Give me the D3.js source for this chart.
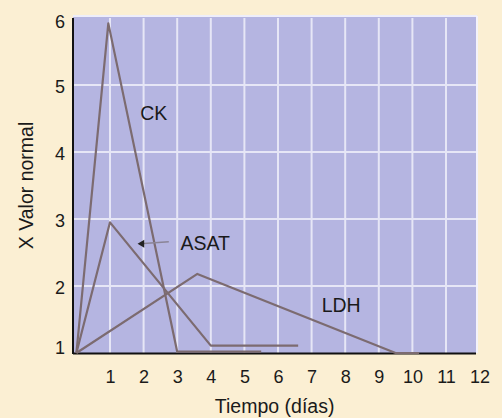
<!DOCTYPE html>
<html><head><meta charset="utf-8">
<script src="https://cdn.jsdelivr.net/npm/d3@7"></script>
<style>
html,body{margin:0;padding:0;background:#fbefd3;}
svg{display:block;}
text{font-family:"Liberation Sans",Arial,sans-serif;fill:#1a1a1a;}
</style></head>
<body>
<svg id="c" width="502" height="418"></svg>
<script>
const xTicks = [1,2,3,4,5,6,7,8,9,10,11,12];
const yTicks = [1,2,3,4,5,6];
const ckX = [0, 0.95, 3.0, 5.5];
const ckY = [1, 5.92, 1.02, 1.02];
const asatX = [0, 1.0, 4.0, 6.6];
const asatY = [1, 2.95, 1.11, 1.11];
const ldhX = [0, 3.6, 9.5, 10.2];
const ldhY = [1, 2.18, 1.0, 1.0];
const labels = ["CK", "ASAT", "LDH"];
const labelPos = [[1.9, 4.58], [3.1, 2.64], [7.3, 1.72]];
const xTitle = "Tiempo (días)";
const yTitle = "X Valor normal";

const svg = d3.select("#c");
const x = d3.scaleLinear().domain([0, 12]).range([76.4, 479.6]);
const y = d3.scaleLinear().domain([1, 6]).range([353, 18]);
const pL = 73, pR = 476, pT = 18, pB = 353;

svg.append("rect").attr("x", pL).attr("y", pT - 2).attr("width", pR - pL).attr("height", pB - pT + 2)
  .attr("fill", "#b5b5e1");
svg.append("line").attr("x1", pL).attr("x2", pR + 1).attr("y1", pT - 2).attr("y2", pT - 2)
  .attr("stroke", "#eeeefa").attr("stroke-width", 2);
svg.append("line").attr("x1", pR + 1).attr("x2", pR + 1).attr("y1", pT - 2).attr("y2", pB)
  .attr("stroke", "#f4f2fa").attr("stroke-width", 2);

const g = svg.append("g");
g.selectAll(".vg").data(xTicks.filter(d => x(d) < pR - 2)).join("line")
  .attr("x1", d => x(d)).attr("x2", d => x(d)).attr("y1", pT).attr("y2", pB)
  .attr("stroke", "#e6e6f6").attr("stroke-width", 2);
g.selectAll(".hg").data(yTicks.filter(d => d > 1 && d < 6)).join("line")
  .attr("x1", pL).attr("x2", pR).attr("y1", d => y(d)).attr("y2", d => y(d))
  .attr("stroke", "#e6e6f6").attr("stroke-width", 2);

const xAxis = d3.axisBottom(x).tickValues(xTicks).tickSize(0).tickPadding(17).tickFormat(d3.format("d"));
const xg = svg.append("g").attr("transform", `translate(0,${pB})`).call(xAxis);
xg.select(".domain").remove();
xg.selectAll("text").attr("font-size", 18).attr("font-family", "Liberation Sans, Arial, sans-serif").attr("fill", "#1a1a1a");

const yAxis = d3.axisLeft(y).tickValues(yTicks).tickSize(0).tickPadding(8).tickFormat(d3.format("d"));
const yg = svg.append("g").attr("transform", `translate(${pL},0)`).call(yAxis);
yg.select(".domain").remove();
yg.selectAll("text").attr("font-size", 18).attr("font-family", "Liberation Sans, Arial, sans-serif").attr("fill", "#1a1a1a")
  .attr("dy", d => d === 6 ? "0.55em" : d === 1 ? "0.05em" : "0.4em");

svg.append("line").attr("x1", pL).attr("x2", pL).attr("y1", pT).attr("y2", pB + 1)
  .attr("stroke", "#111").attr("stroke-width", 2);
svg.append("line").attr("x1", pL).attr("x2", pR).attr("y1", pB + 0.5).attr("y2", pB + 0.5)
  .attr("stroke", "#111").attr("stroke-width", 2);

const line = d3.line().x(d => x(d[0])).y(d => y(d[1]));
const series = [[ckX, ckY], [asatX, asatY], [ldhX, ldhY]];
series.forEach(([xs, ys]) => {
  svg.append("path").datum(xs.map((v, i) => [v, ys[i]])).attr("d", line)
    .attr("fill", "none").attr("stroke", "#7c6b70").attr("stroke-width", 2.2).attr("stroke-linejoin", "round");
});

labels.forEach((t, i) => {
  svg.append("text").attr("x", x(labelPos[i][0])).attr("y", y(labelPos[i][1])).attr("dy", "0.35em")
    .attr("font-size", 19.5).text(t);
});
svg.append("line").attr("x1", x(2.75)).attr("x2", x(1.9)).attr("y1", y(2.66)).attr("y2", y(2.63))
  .attr("stroke", "#8a8496").attr("stroke-width", 1.5);
svg.append("path").attr("d", d3.line()([[x(1.82), y(2.63)], [x(2.02), y(2.69)], [x(2.02), y(2.57)]]))
  .attr("fill", "#222");

svg.append("text").attr("x", x(5.9)).attr("y", 413).attr("text-anchor", "middle").attr("font-size", 19.5).text(xTitle);
svg.append("text").attr("transform", `translate(33,${(pT + pB) / 2}) rotate(-90)`).attr("text-anchor", "middle")
  .attr("font-size", 19.5).text(yTitle);
</script>
</body></html>
